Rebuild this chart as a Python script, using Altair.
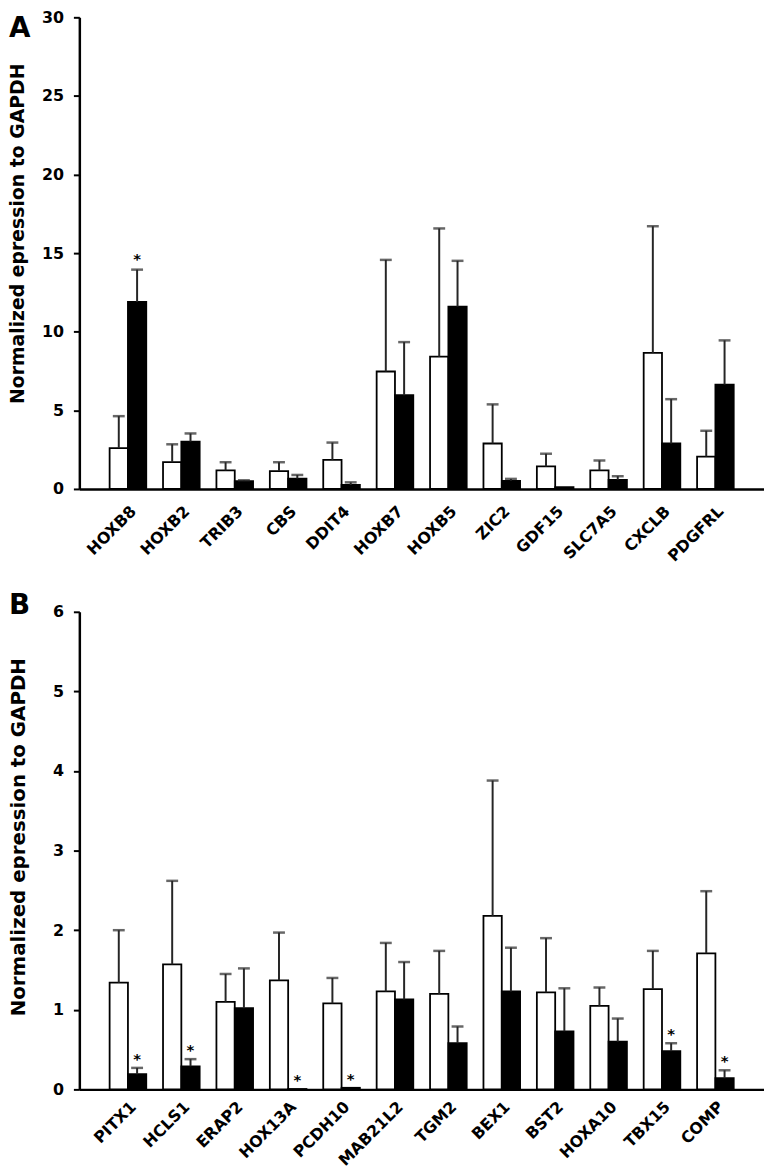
import altair as alt
import pandas as pd

# ---------------- Panel A data ----------------
genes_a = ["HOXB8", "HOXB2", "TRIB3", "CBS", "DDIT4", "HOXB7",
           "HOXB5", "ZIC2", "GDF15", "SLC7A5", "CXCLB", "PDGFRL"]
white_a = [2.6, 1.7, 1.18, 1.14, 1.85, 7.47, 8.41, 2.89, 1.43, 1.18, 8.66, 2.06]
white_err_a = [2.03, 1.14, 0.52, 0.56, 1.10, 7.10, 8.16, 2.49, 0.81, 0.63, 8.05, 1.64]
black_a = [11.9, 3.01, 0.50, 0.66, 0.25, 5.96, 11.6, 0.52, 0.12, 0.58, 2.89, 6.64]
black_err_a = [2.05, 0.52, 0.05, 0.23, 0.17, 3.38, 2.91, 0.12, 0.0, 0.23, 2.82, 2.81]
star_a = [True, False, False, False, False, False,
          False, False, False, False, False, False]

# ---------------- Panel B data ----------------
genes_b = ["PITX1", "HCLS1", "ERAP2", "HOX13A", "PCDH10", "MAB21L2",
           "TGM2", "BEX1", "BST2", "HOXA10", "TBX15", "COMP"]
white_b = [1.34, 1.57, 1.10, 1.37, 1.08, 1.23, 1.20, 2.18, 1.22, 1.05, 1.26, 1.71]
white_err_b = [0.66, 1.05, 0.35, 0.60, 0.32, 0.61, 0.54, 1.70, 0.68, 0.23, 0.48, 0.78]
black_b = [0.19, 0.29, 1.02, 0.005, 0.02, 1.13, 0.58, 1.23, 0.73, 0.60, 0.48, 0.14]
black_err_b = [0.08, 0.09, 0.50, 0.0, 0.0, 0.47, 0.21, 0.55, 0.54, 0.29, 0.10, 0.10]
star_b = [True, True, False, True, True, False,
          False, False, False, False, True, True]

FONT = "DejaVu Sans"


def build_df(genes, white, werr, black, berr, stars):
    rows = []
    for i, g in enumerate(genes):
        rows.append(dict(gene=g, grp="white", value=white[i], err=werr[i],
                         top=white[i] + werr[i], star=False))
        rows.append(dict(gene=g, grp="black", value=black[i], err=berr[i],
                         top=black[i] + berr[i], star=stars[i]))
    return pd.DataFrame(rows)


def panel(df, genes, ymax, letter, letter_y, title_size, title_x, title_y,
          height, star_dy, xlab_pad):
    xenc = alt.X(
        "gene:N", sort=genes,
        scale=alt.Scale(paddingInner=0.314, paddingOuter=0.567),
        axis=alt.Axis(title=None, labelAngle=-45, ticks=False,
                      labelFontSize=16, labelFont=FONT, labelFontWeight="bold",
                      labelColor="black", labelPadding=xlab_pad,
                      domainColor="black", domainWidth=2.5),
    )
    xoff = alt.XOffset("grp:N", sort=["white", "black"])
    yscale = alt.Scale(domain=[0, ymax], nice=False)
    yaxis = alt.Axis(
        title="Normalized epression to GAPDH", titleFont=FONT,
        titleFontSize=title_size, titleFontWeight="bold", titleColor="black",
        titleX=title_x, titleY=title_y, titleAngle=-90,
        titleBaseline="alphabetic", titleAlign="center",
        values=list(range(0, ymax + 1, ymax // 6)), format="d",
        labelFont=FONT, labelFontSize=16, labelFontWeight="bold",
        labelColor="black", labelPadding=10,
        tickSize=6, tickWidth=2, tickColor="black",
        domainColor="black", domainWidth=2.5, grid=False,
    )
    base = alt.Chart(df).encode(x=xenc, xOffset=xoff)
    bars = base.mark_bar(stroke="black", strokeWidth=1.8).encode(
        y=alt.Y("value:Q", scale=yscale, axis=yaxis),
        fill=alt.Fill("grp:N", scale=alt.Scale(domain=["white", "black"],
                                               range=["white", "black"]),
                      legend=None),
    )
    errs = base.transform_filter("datum.err > 0")
    rules = errs.mark_rule(color="#262626", strokeWidth=2).encode(
        y="value:Q", y2="top:Q")
    caps = errs.mark_tick(color="#262626", thickness=2.5, size=12).encode(
        y="top:Q")
    stars = base.transform_filter("datum.star").mark_text(
        text="*", font=FONT, fontSize=15, fontWeight="bold", color="black",
        dy=star_dy, baseline="middle").encode(y="top:Q")
    lab = alt.Chart(pd.DataFrame({"t": [letter]})).mark_text(
        font=FONT, fontSize=28, fontWeight="bold", color="black",
        align="left", baseline="alphabetic").encode(
        text="t:N", x=alt.value(-71), y=alt.value(letter_y))
    return alt.layer(bars, rules, caps, stars, lab).properties(
        width=691, height=height)


df_a = build_df(genes_a, white_a, white_err_a, black_a, black_err_a, star_a)
df_b = build_df(genes_b, white_b, white_err_b, black_b, black_err_b, star_b)

pa = panel(df_a, genes_a, 30, "A", 20, 19, -56, 218, 476, -11, 14)
pb = panel(df_b, genes_b, 6, "B", 2, 20, -55, 227, 482, -9, 9)

chart = alt.vconcat(pa, pb, spacing=28).configure_view(stroke=None).properties(
    padding={"left": 0, "top": -4, "right": 0, "bottom": 0},
    background="white")

chart.save("out.html", embed_options={"renderer": "svg", "actions": False})
